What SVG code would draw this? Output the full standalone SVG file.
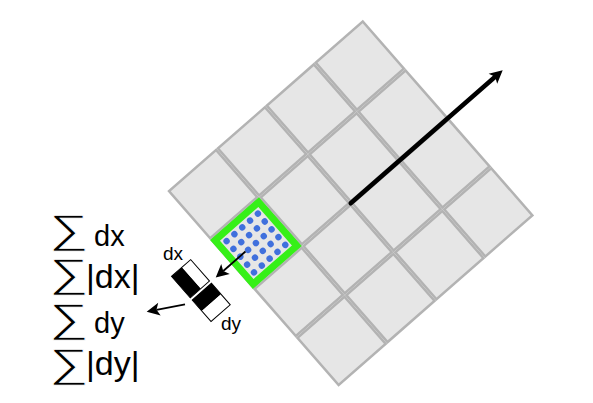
<svg xmlns="http://www.w3.org/2000/svg" width="593" height="403" viewBox="0 0 593 403">
<style>
.cell{fill:#e6e6e6;stroke:#b3b3b3;stroke-width:2.5}
.hl{fill:none;stroke:#36f018;stroke-width:7}
.dot{fill:#4070dd}
.blk{fill:#000}
.wht{fill:#fff}
.box{fill:none;stroke:#000;stroke-width:1}
.con{fill:none;stroke:#000}
.t{font-family:"Liberation Sans",Arial,sans-serif;fill:#000}
.sum{font-family:"Liberation Sans",Arial,sans-serif;fill:#000;font-size:40px;stroke:#fff;stroke-width:0.8}
</style>
<defs>
<marker id="ah" markerUnits="userSpaceOnUse" markerWidth="16" markerHeight="16" viewBox="-14 -8 16 16" refX="-10" refY="0" orient="auto">
<path d="M0,0 L-13,-6.5 L-10,0 L-13,6.5 Z" fill="#000"/>
</marker>
</defs>
<g id="grid" transform="translate(350.7,203.25) rotate(-41.2)">
<rect class="cell" x="-128.75" y="-128.75" width="62.5" height="62.5"/>
<rect class="cell" x="-63.75" y="-128.75" width="62.5" height="62.5"/>
<rect class="cell" x="1.25" y="-128.75" width="62.5" height="62.5"/>
<rect class="cell" x="66.25" y="-128.75" width="62.5" height="62.5"/>
<rect class="cell" x="-128.75" y="-63.75" width="62.5" height="62.5"/>
<rect class="cell" x="-63.75" y="-63.75" width="62.5" height="62.5"/>
<rect class="cell" x="1.25" y="-63.75" width="62.5" height="62.5"/>
<rect class="cell" x="66.25" y="-63.75" width="62.5" height="62.5"/>
<rect class="cell" x="-128.75" y="1.25" width="62.5" height="62.5"/>
<rect class="cell" x="-63.75" y="1.25" width="62.5" height="62.5"/>
<rect class="cell" x="1.25" y="1.25" width="62.5" height="62.5"/>
<rect class="cell" x="66.25" y="1.25" width="62.5" height="62.5"/>
<rect class="cell" x="-128.75" y="66.25" width="62.5" height="62.5"/>
<rect class="cell" x="-63.75" y="66.25" width="62.5" height="62.5"/>
<rect class="cell" x="1.25" y="66.25" width="62.5" height="62.5"/>
<rect class="cell" x="66.25" y="66.25" width="62.5" height="62.5"/>
</g>
<g id="subregion" transform="translate(350.7,203.25) rotate(-41.2)">
<rect class="hl" x="-126.5" y="-61.5" width="58" height="58"/>
<g transform="translate(-97.5,-32.5)">
<circle class="dot" cx="-20.8" cy="-20.8" r="3.2"/><circle class="dot" cx="-10.4" cy="-20.8" r="3.2"/><circle class="dot" cx="0" cy="-20.8" r="3.2"/><circle class="dot" cx="10.4" cy="-20.8" r="3.2"/><circle class="dot" cx="20.8" cy="-20.8" r="3.2"/>
<circle class="dot" cx="-20.8" cy="-10.4" r="3.2"/><circle class="dot" cx="-10.4" cy="-10.4" r="3.2"/><circle class="dot" cx="0" cy="-10.4" r="3.2"/><circle class="dot" cx="10.4" cy="-10.4" r="3.2"/><circle class="dot" cx="20.8" cy="-10.4" r="3.2"/>
<circle class="dot" cx="-20.8" cy="0" r="3.2"/><circle class="dot" cx="-10.4" cy="0" r="3.2"/><circle class="dot" cx="0" cy="0" r="3.2"/><circle class="dot" cx="10.4" cy="0" r="3.2"/><circle class="dot" cx="20.8" cy="0" r="3.2"/>
<circle class="dot" cx="-20.8" cy="10.4" r="3.2"/><circle class="dot" cx="-10.4" cy="10.4" r="3.2"/><circle class="dot" cx="0" cy="10.4" r="3.2"/><circle class="dot" cx="10.4" cy="10.4" r="3.2"/><circle class="dot" cx="20.8" cy="10.4" r="3.2"/>
<circle class="dot" cx="-20.8" cy="20.8" r="3.2"/><circle class="dot" cx="-10.4" cy="20.8" r="3.2"/><circle class="dot" cx="0" cy="20.8" r="3.2"/><circle class="dot" cx="10.4" cy="20.8" r="3.2"/><circle class="dot" cx="20.8" cy="20.8" r="3.2"/>
</g>
</g>
<g id="haar-dx" transform="translate(350.7,203.25) rotate(-41.2)">
<rect class="blk" x="-183" y="-63" width="14" height="28.5"/>
<rect class="wht" x="-169" y="-63" width="11.5" height="28.5"/>
<rect class="box" x="-183" y="-63" width="25.5" height="28.5"/>
</g>
<g id="haar-dy" transform="translate(350.7,203.25) rotate(-41.2)">
<rect class="blk" x="-183" y="-31.5" width="25.5" height="14.5"/>
<rect class="wht" x="-183" y="-17" width="25.5" height="14"/>
<rect class="box" x="-183" y="-31.5" width="25.5" height="28.5"/>
</g>
<g id="labels">
<text class="t" x="163" y="260" font-size="19">dx</text>
<text class="t" x="221" y="330" font-size="19">dy</text>
</g>
<g id="sums">
<text class="sum" transform="translate(49,243) scale(1.39,1)">∑</text>
<text class="t" x="94" y="246" font-size="29">dx</text>
<text class="sum" transform="translate(49,287) scale(1.39,1)">∑</text>
<text class="t" x="86" y="288" font-size="34">|dx|</text>
<text class="sum" transform="translate(49,332) scale(1.39,1)">∑</text>
<text class="t" x="94" y="333" font-size="29">dy</text>
<text class="sum" transform="translate(49,376.5) scale(1.39,1)">∑</text>
<text class="t" x="86" y="375" font-size="34">|dy|</text>
</g>
<g id="connectors">
<g transform="translate(350.7,203.25) rotate(-41.2)">
<line class="con" x1="0" y1="0" x2="192" y2="0" stroke-width="4.5" stroke-linecap="round" marker-end="url(#ah)"/>
<line class="con" x1="-111" y1="-33" x2="-140.5" y2="-33" stroke-width="1.8" marker-end="url(#ah)"/>
</g>
<line class="con" x1="185" y1="304.3" x2="156.5" y2="309.8" stroke-width="1.8" marker-end="url(#ah)"/>
</g>
</svg>
